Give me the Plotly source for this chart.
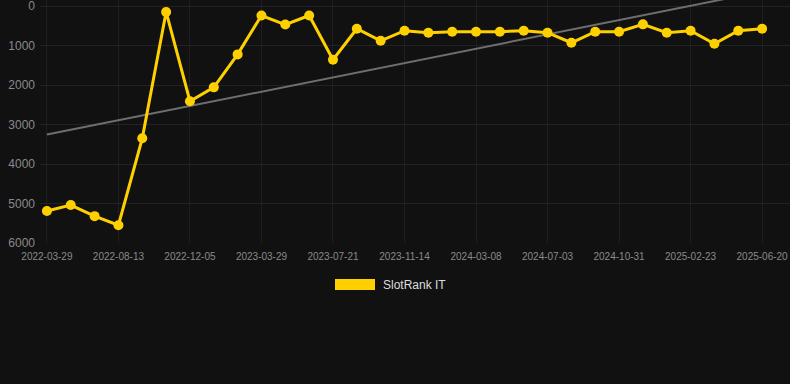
import numpy as np
import plotly.graph_objects as go

dates = [
    "2022-03-29", "2022-05-14", "2022-06-28", "2022-08-13", "2022-09-20", "2022-10-28",
    "2022-12-05", "2023-01-15", "2023-02-20", "2023-03-29", "2023-05-06", "2023-06-13",
    "2023-07-21", "2023-08-28", "2023-10-07", "2023-11-14", "2023-12-22", "2024-01-30",
    "2024-03-08", "2024-04-15", "2024-05-25", "2024-07-03", "2024-08-11", "2024-09-21",
    "2024-10-31", "2024-12-08", "2025-01-16", "2025-02-23", "2025-04-02", "2025-05-11",
    "2025-06-20",
]
rank = [
    5190, 5040, 5320, 5550, 3350, 150, 2410, 2060, 1225, 240, 470, 240, 1360, 575, 880,
    625, 675, 650, 650, 650, 625, 675, 930, 650, 650, 465, 675, 625, 955, 625, 575,
]
series_name = "SlotRank IT"
y_ticks = [0, 1000, 2000, 3000, 4000, 5000, 6000]
tick_dates = dates[::3]

idx = np.arange(len(rank))
slope, intercept = np.polyfit(idx, rank, 1)
trend = slope * idx + intercept

fig = go.Figure()
fig.add_trace(go.Scatter(
    x=dates, y=trend, mode="lines",
    line=dict(color="#6e6e6e", width=2), showlegend=False, hoverinfo="skip",
))
fig.add_trace(go.Scatter(
    x=dates, y=rank, mode="lines+markers", name=series_name,
    line=dict(color="#FFD000", width=3),
    marker=dict(color="#FFD000", size=10),
    showlegend=False,
))

fig.update_layout(
    width=790, height=384,
    margin=dict(l=40, r=0, t=0, b=141),
    paper_bgcolor="#111111", plot_bgcolor="#111111",
    font=dict(family="Liberation Sans, Arial, sans-serif", color="#8a8a8a"),
    xaxis=dict(
        type="category", range=[-0.29, 31.17],
        tickmode="array", tickvals=tick_dates, ticktext=tick_dates,
        tickfont=dict(size=10, color="#8a8a8a"),
        showgrid=True, gridcolor="#1f1f1f", gridwidth=1,
        zeroline=False, showline=False, ticks="", ticklabelstandoff=6,
        ticklabeloverflow="allow",
    ),
    yaxis=dict(
        range=[6000, -152],
        tickmode="array", tickvals=y_ticks,
        tickfont=dict(size=12, color="#8a8a8a"),
        showgrid=True, gridcolor="#222222", gridwidth=1,
        zeroline=False, showline=False, ticks="", ticklabelstandoff=4,
        ticklabeloverflow="allow",
    ),
    showlegend=False,
)

fig.add_shape(type="rect", xref="paper", yref="paper",
              x0=(335 - 40) / 750, x1=(375 - 40) / 750,
              y0=(384 - 141 - 290) / 243, y1=(384 - 141 - 279) / 243,
              fillcolor="#FFD000", line=dict(width=0))
fig.add_annotation(text=series_name, xref="paper", yref="paper",
                   x=(381 - 40) / 750, y=(384 - 141 - 285) / 243,
                   xanchor="left", yanchor="middle", showarrow=False,
                   font=dict(size=12, color="#dddddd"))

fig.write_html(
    "out.html",
    config={"displayModeBar": False},
    post_script="document.body.style.margin='0';document.body.style.background='#111111';",
)
